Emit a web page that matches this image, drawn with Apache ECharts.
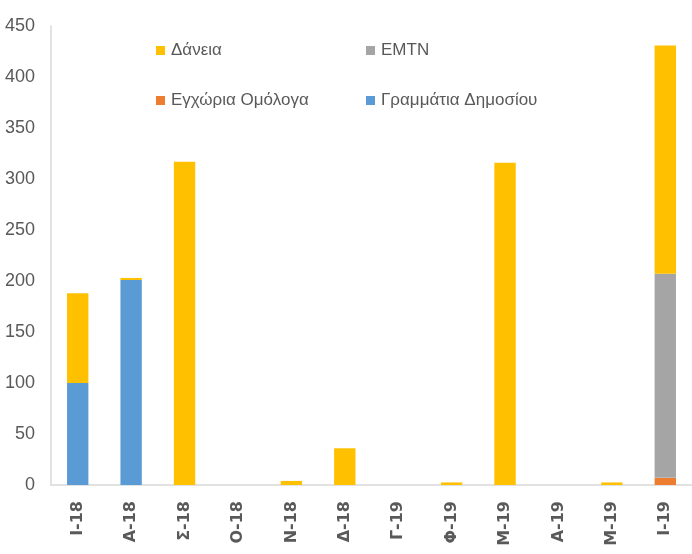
<!DOCTYPE html>
<html lang="el">
<head>
    <meta charset="UTF-8">
    <title>Εκδόσεις</title>
    <script src="https://cdn.jsdelivr.net/npm/echarts@6/dist/echarts.min.js"></script>
    <style>
        html, body { margin: 0; padding: 0; background: #fff; }
    </style>
</head>
<body>
<div id="chart" style="width: 692px;height:554px;"></div>
<script>
    // κατηγορίες (μήνες)
    var months = ['Ι-18', 'Α-18', 'Σ-18', 'Ο-18', 'Ν-18', 'Δ-18', 'Γ-19', 'Φ-19', 'Μ-19', 'Α-19', 'Μ-19', 'Ι-19'];
    // τιμές σειρών
    var egxoria = [0, 0, 0, 0, 0, 0, 0, 0, 0, 0, 0, 7];
    var grammatia = [100, 201, 0, 0, 0, 0, 0, 0, 0, 0, 0, 0];
    var emtn = [0, 0, 0, 0, 0, 0, 0, 0, 0, 0, 0, 200];
    var daneia = [88, 2, 317, 0, 4, 36, 0, 2.5, 316, 0, 2.5, 224];
    var yTicks = [0, 450, 50];

    var chart = echarts.init(document.getElementById('chart'));
    var txt = '#595959';
    var narrow = "'Liberation Sans Narrow', 'Liberation Sans', sans-serif";

    function legendItem(name, left, top) {
        return {
            data: [name],
            left: left,
            top: top,
            icon: 'rect',
            itemWidth: 9,
            itemHeight: 9,
            textStyle: { color: txt, fontSize: 17, fontFamily: narrow, padding: [0, 0, 0, 1] }
        };
    }

    function bar(name, data, color) {
        return {
            name: name,
            type: 'bar',
            stack: 'total',
            data: data,
            barWidth: '40%',
            itemStyle: { color: color },
            emphasis: { disabled: true }
        };
    }

    var option = {
        animation: false,
        grid: { left: 51, right: -1, top: 26, bottom: 69 },
        legend: [
            legendItem('Δάνεια', 151, 37),
            legendItem('EMTN', 361, 37),
            legendItem('Εγχώρια Ομόλογα', 151, 87),
            legendItem('Γραμμάτια Δημοσίου', 361, 87)
        ],
        xAxis: {
            type: 'category',
            data: months,
            axisLine: { lineStyle: { color: '#d9d9d9', width: 1.5 } },
            axisTick: { show: false },
            axisLabel: {
                rotate: 90,
                margin: 16,
                color: txt,
                fontSize: 16,
                fontWeight: 'bold',
                fontFamily: 'DejaVu Sans, sans-serif'
            }
        },
        yAxis: {
            type: 'value',
            min: yTicks[0],
            max: yTicks[1],
            interval: yTicks[2],
            axisLine: { show: true, lineStyle: { color: '#d9d9d9', width: 1.5 } },
            axisTick: { show: false },
            splitLine: { show: false },
            axisLabel: { color: txt, fontSize: 18, fontFamily: narrow, margin: 16 }
        },
        series: [
            bar('Εγχώρια Ομόλογα', egxoria, '#ED7D31'),
            bar('Γραμμάτια Δημοσίου', grammatia, '#5B9BD5'),
            bar('EMTN', emtn, '#A5A5A5'),
            bar('Δάνεια', daneia, '#FFC000')
        ]
    };
    chart.setOption(option);
</script>
</body>
</html>
